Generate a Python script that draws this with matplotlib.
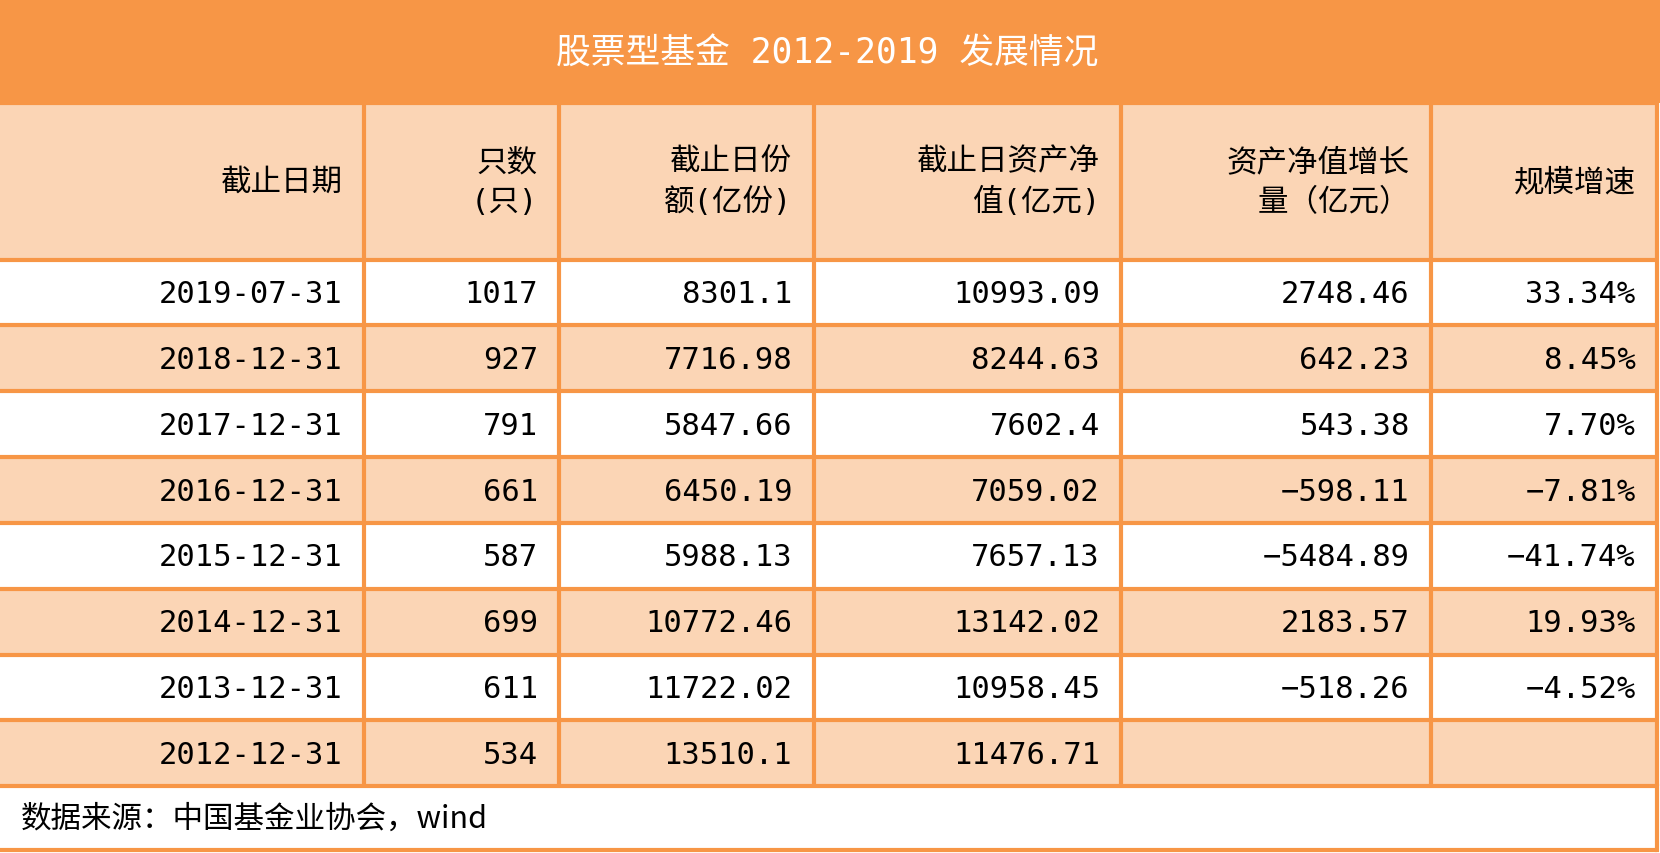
import matplotlib
matplotlib.use("Agg")
import matplotlib.pyplot as plt
from matplotlib.patches import Rectangle

plt.rcParams['font.family'] = ['Noto Sans CJK SC', 'DejaVu Sans']
MONO = ['DejaVu Sans Mono', 'Noto Sans CJK SC']

title = "股票型基金 2012-2019 发展情况"
headers = ["截止日期", "只数\n(只)", "截止日份\n额(亿份)", "截止日资产净\n值(亿元)", "资产净值增长\n量（亿元）", "规模增速"]
dates = ["2019-07-31", "2018-12-31", "2017-12-31", "2016-12-31", "2015-12-31", "2014-12-31", "2013-12-31", "2012-12-31"]
counts = ["1017", "927", "791", "661", "587", "699", "611", "534"]
shares = ["8301.1", "7716.98", "5847.66", "6450.19", "5988.13", "10772.46", "11722.02", "13510.1"]
nav = ["10993.09", "8244.63", "7602.4", "7059.02", "7657.13", "13142.02", "10958.45", "11476.71"]
nav_growth = ["2748.46", "642.23", "543.38", "-598.11", "-5484.89", "2183.57", "-518.26", ""]
growth_rate = ["33.34%", "8.45%", "7.70%", "-7.81%", "-41.74%", "19.93%", "-4.52%", ""]
source = "数据来源：中国基金业协会，wind"

W, H = 1565, 803
ORANGE = "#F79646"
PEACH = "#FBD5B5"
fig = plt.figure(figsize=(16.6, 8.54), dpi=100)
ax = fig.add_axes([0, 0, 1, 1])
ax.set_xlim(0, W); ax.set_ylim(H, 0); ax.axis('off')

cols = [0, 343, 527, 767, 1057, 1349, 1562]
head = (98, 245)
row_h = 61.9

ax.add_patch(Rectangle((0, 0), W, 98, color=ORANGE, lw=0))
ax.text(780, 50, title, color="white", fontsize=25, ha="center", va="center", family=MONO)
ax.add_patch(Rectangle((0, head[0]), cols[-1], head[1]-head[0], color=PEACH, lw=0))
for i, h in enumerate(headers):
    ax.text(cols[i+1]-20, (head[0]+head[1])/2, h, fontsize=22, ha="right", va="center", linespacing=1.45, family=MONO)

data = list(zip(dates, counts, shares, nav, nav_growth, growth_rate))
for r, row in enumerate(data):
    y0 = head[1] + r*row_h
    if r % 2 == 1:
        ax.add_patch(Rectangle((0, y0), cols[-1], row_h, color=PEACH, lw=0))
    for i, v in enumerate(row):
        ax.text(cols[i+1]-20, y0+row_h/2+1, v.replace("-", "−") if i >= 4 else v,
                fontsize=22, ha="right", va="center", family=MONO)

ax.text(20, 770, source, fontsize=22, ha="left", va="center")

lw = 3
ys = [98, 245] + [head[1] + r*row_h for r in range(1, 9)] + [800]
for y in ys:
    ax.plot([0, cols[-1]], [y, y], color=ORANGE, lw=lw, solid_capstyle='butt')
for x in cols[1:]:
    ax.plot([x, x], [98, 740], color=ORANGE, lw=lw, solid_capstyle='butt')
ax.plot([cols[-1], cols[-1]], [740, 800], color=ORANGE, lw=lw)

fig.savefig("out.png", dpi=100)
